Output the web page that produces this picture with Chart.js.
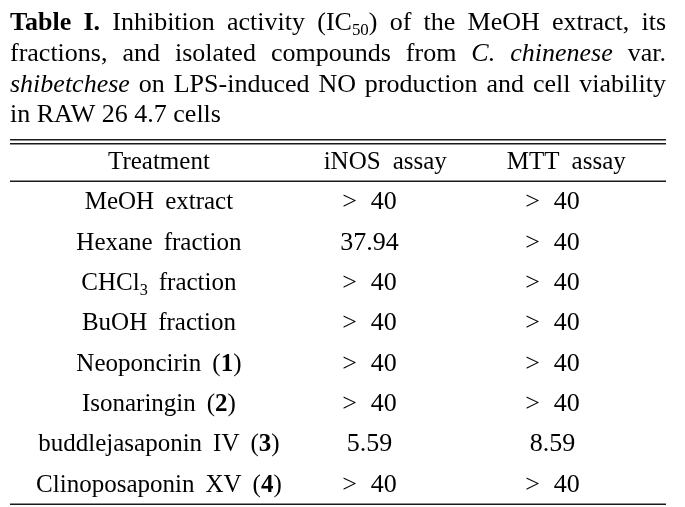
<!DOCTYPE html>
<html>
<head>
<meta charset="utf-8">
<script src="https://cdn.jsdelivr.net/npm/chart.js@4.4.1/dist/chart.umd.min.js"></script>
<style>
  html, body { margin: 0; padding: 0; background: #fff; }
  canvas { display: block; }
</style>
</head>
<body>
<canvas id="tableChart" width="685" height="507"></canvas>
<script>
// markup: *bold*  _italic_  ~subscript~
const captionLines = [
    '*Table* *I.* Inhibition activity (IC~50~) of the MeOH extract, its',
    'fractions, and isolated compounds from _C._ _chinenese_ var.',
    '_shibetchese_ on LPS-induced NO production and cell viability',
    'in RAW 26 4.7 cells'
];
const headers = ['Treatment', 'iNOS assay', 'MTT assay'];
const treatments = [
    'MeOH extract',
    'Hexane fraction',
    'CHCl~3~ fraction',
    'BuOH fraction',
    'Neoponcirin (*1*)',
    'Isonaringin (*2*)',
    'buddlejasaponin IV (*3*)',
    'Clinoposaponin XV (*4*)'
];
const inosIC50 = ['> 40', '37.94', '> 40', '> 40', '> 40', '> 40', '5.59', '> 40'];
const mttIC50 = ['> 40', '> 40', '> 40', '> 40', '> 40', '> 40', '8.59', '> 40'];

const FONT = '"Liberation Serif", "Times New Roman", serif';

function parseWord(word) {
    const segs = [];
    word.split(/(\*[^*]+\*|_[^_]+_|~[^~]+~)/).forEach(p => {
        if (!p) return;
        if (p[0] === '*') segs.push({ t: p.slice(1, -1), s: 'b' });
        else if (p[0] === '_') segs.push({ t: p.slice(1, -1), s: 'i' });
        else if (p[0] === '~') segs.push({ t: p.slice(1, -1), s: 'sub' });
        else segs.push({ t: p, s: 'n' });
    });
    return segs;
}

function setFont(ctx, seg, size) {
    const px = seg.s === 'sub' ? size * 0.65 : size;
    const w = seg.s === 'b' ? 'bold ' : '';
    const st = seg.s === 'i' ? 'italic ' : '';
    ctx.font = st + w + px + 'px ' + FONT;
}

function wordWidth(ctx, segs, size) {
    let w = 0;
    segs.forEach(seg => { setFont(ctx, seg, size); w += ctx.measureText(seg.t).width; });
    return w;
}

function drawWord(ctx, segs, x, y, size) {
    segs.forEach(seg => {
        setFont(ctx, seg, size);
        ctx.fillText(seg.t, x, seg.s === 'sub' ? y + 5 : y);
        x += ctx.measureText(seg.t).width;
    });
}

// draws a line of words; if fullWidth is given the words are spread to fill it
function drawLine(ctx, text, x, y, size, gap, fullWidth) {
    const words = text.split(' ').map(parseWord);
    const widths = words.map(w => wordWidth(ctx, w, size));
    const total = widths.reduce((a, b) => a + b, 0);
    if (fullWidth) gap = (fullWidth - total) / (words.length - 1);
    words.forEach((w, i) => {
        drawWord(ctx, w, x, y, size);
        x += widths[i] + gap;
    });
}

function textWidth(ctx, text, size, gap) {
    const words = text.split(' ').map(parseWord);
    return words.reduce((a, w) => a + wordWidth(ctx, w, size), 0) + gap * (words.length - 1);
}

function drawCentered(ctx, text, cx, y, size, gap) {
    drawLine(ctx, text, cx - textWidth(ctx, text, size, gap) / 2, y, size, gap);
}

const tablePlugin = {
    id: 'tableText',
    afterDraw(chart) {
        const { ctx, chartArea, scales: { x, y } } = chart;
        const step = y.getPixelForValue(1) - y.getPixelForValue(0);
        const left = chartArea.left;
        const width = chartArea.right - chartArea.left;

        ctx.save();
        ctx.fillStyle = '#000';
        ctx.textBaseline = 'alphabetic';

        // caption
        const capBase = [30, 61, 92, 122];
        captionLines.forEach((line, i) => {
            const last = i === captionLines.length - 1;
            drawLine(ctx, line, left, capBase[i], 26, 6.5, last ? null : width);
        });

        // rules
        ctx.fillStyle = '#1a1a1a';
        ctx.fillRect(left, chartArea.top - 42, width, 1.5);
        ctx.fillRect(left, chartArea.top - 38, width, 1.5);
        ctx.fillRect(left, chartArea.top - 0.5, width, 1.5);
        ctx.fillRect(left, chartArea.bottom - 0.5, width, 1.5);

        ctx.fillStyle = '#000';
        const headY = y.getPixelForValue(0) - step + 8;
        const headX = [0.227, 0.572, 0.848];
        headers.forEach((h, i) => drawCentered(ctx, h, x.getPixelForValue(headX[i]), headY, 25, 12));

        const valX = [0.227, 0.548, 0.827];
        treatments.forEach((t, i) => {
            const ry = y.getPixelForValue(i) + 8;
            drawCentered(ctx, t, x.getPixelForValue(valX[0]), ry, 25, 11);
            drawCentered(ctx, inosIC50[i], x.getPixelForValue(valX[1]), ry, 26, 14);
            drawCentered(ctx, mttIC50[i], x.getPixelForValue(valX[2]), ry, 26, 14);
        });
        ctx.restore();
    }
};

const ctx = document.getElementById('tableChart').getContext('2d');
new Chart(ctx, {
    type: 'scatter',
    data: { datasets: [] },
    options: {
        responsive: false,
        animation: false,
        layout: { padding: { left: 10, right: 19, top: 181, bottom: 3 } },
        plugins: { legend: { display: false }, tooltip: { enabled: false } },
        scales: {
            x: { type: 'linear', min: 0, max: 1, display: false },
            y: { type: 'category', labels: treatments, offset: true, display: false }
        }
    },
    plugins: [tablePlugin]
});
</script>
</body>
</html>
